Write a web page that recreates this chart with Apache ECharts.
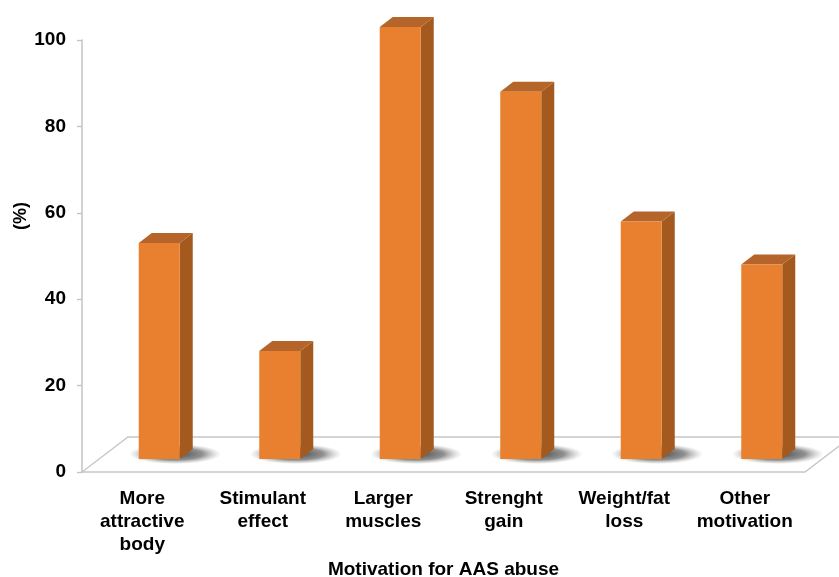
<!DOCTYPE html>
<html>
<head>
<meta charset="utf-8">
<script src="https://cdn.jsdelivr.net/npm/echarts@6/dist/echarts.min.js"></script>
<style>
  html, body { margin: 0; padding: 0; background: #ffffff; }
  #chart { width: 839px; height: 577px; }
</style>
</head>
<body>
<div id="chart"></div>
<script>
// Motivations reported for AAS abuse (% of respondents)
const categories = [
  'More\nattractive\nbody',
  'Stimulant\neffect',
  'Larger\nmuscles',
  'Strenght\ngain',
  'Weight/fat\nloss',
  'Other\nmotivation'
];
const percentValues = [50, 25, 100, 85, 55, 45];
const yTicks = [0, 20, 40, 60, 80, 100];

// Pseudo-3D geometry (pixels)
const FLOOR_DX = 46, FLOOR_DY = -35;   // depth vector of the floor
const BAR_OFF_X = 17, BAR_OFF_Y = -13; // bar front face position inside floor depth
const BAR_W = 41;                      // bar front face width
const BAR_DX = 13, BAR_DY = -10;       // bar depth

const FRONT = '#E8802F', SIDE = '#A45A1F', TOP = '#B5652A';
const FONT = '"Liberation Sans", Arial, Helvetica, sans-serif';

const chart = echarts.init(document.getElementById('chart'), null, { renderer: 'canvas' });

function renderFloor(params, api) {
  const cs = params.coordSys;
  const x0 = cs.x, x1 = cs.x + cs.width, y0 = cs.y + cs.height;
  return {
    type: 'polygon',
    shape: { points: [[x0, y0], [x0 + FLOOR_DX, y0 + FLOOR_DY], [x1 + FLOOR_DX, y0 + FLOOR_DY], [x1, y0]] },
    style: { fill: '#ffffff', stroke: '#c6c6c6', lineWidth: 1.3 },
    silent: true
  };
}

function renderBar(params, api) {
  const idx = api.value(0);
  const base = api.coord([idx, 0]);
  const top = api.coord([idx, api.value(1)]);
  const cx = base[0] + BAR_OFF_X;
  const L = cx - BAR_W / 2, R = cx + BAR_W / 2;
  const botY = base[1] + BAR_OFF_Y;
  const topY = top[1] + BAR_OFF_Y;
  return {
    type: 'group',
    children: [
      // soft shadow cast on the floor (circle squashed into an ellipse)
      {
        type: 'circle',
        x: cx + 16,
        y: botY - 5,
        scaleY: 0.22,
        shape: { cx: 0, cy: 0, r: 46 },
        style: {
          fill: {
            type: 'radial', x: 0.5, y: 0.5, r: 0.5,
            colorStops: [
              { offset: 0, color: 'rgba(40,40,40,0.85)' },
              { offset: 0.6, color: 'rgba(70,70,70,0.6)' },
              { offset: 1, color: 'rgba(140,140,140,0)' }
            ]
          }
        },
        z2: 0
      },
      {
        type: 'polygon',
        shape: { points: [[R, topY], [R + BAR_DX, topY + BAR_DY], [R + BAR_DX, botY + BAR_DY], [R, botY]] },
        style: { fill: SIDE },
        z2: 1
      },
      {
        type: 'polygon',
        shape: { points: [[L, topY], [L + BAR_DX, topY + BAR_DY], [R + BAR_DX, topY + BAR_DY], [R, topY]] },
        style: { fill: TOP },
        z2: 1
      },
      {
        type: 'rect',
        shape: { x: L, y: topY, width: BAR_W, height: botY - topY },
        style: { fill: FRONT },
        z2: 2
      }
    ]
  };
}

chart.setOption({
  animation: false,
  backgroundColor: '#ffffff',
  grid: { left: 82, right: 34, top: 40, bottom: 105, containLabel: false, outerBoundsMode: 'none' },
  xAxis: {
    type: 'category',
    data: categories,
    axisLine: { show: false },
    axisTick: { show: false },
    axisLabel: {
      interval: 0,
      margin: 15,
      color: '#000',
      fontFamily: FONT,
      fontWeight: 'bold',
      fontSize: 19,
      lineHeight: 23
    },
    name: 'Motivation for AAS abuse',
    nameLocation: 'middle',
    nameGap: 88,
    nameMoveOverlap: false,
    nameTextStyle: { color: '#000', fontFamily: FONT, fontWeight: 'bold', fontSize: 19 }
  },
  yAxis: {
    type: 'value',
    min: yTicks[0],
    max: yTicks[yTicks.length - 1],
    interval: yTicks[1] - yTicks[0],
    axisLine: { show: true, lineStyle: { color: '#c3c3c3', width: 1.5 } },
    axisTick: { show: true, length: 5, lineStyle: { color: '#c3c3c3', width: 1.3 } },
    splitLine: { show: false },
    axisLabel: {
      margin: 16,
      color: '#000',
      fontFamily: FONT,
      fontWeight: 'bold',
      fontSize: 19
    },
    name: '(%)',
    nameLocation: 'middle',
    nameRotate: 90,
    nameGap: 52,
    nameMoveOverlap: false,
    nameTextStyle: { color: '#000', fontFamily: FONT, fontWeight: 'bold', fontSize: 18, padding: [0, 0, 0, 80] }
  },
  series: [
    {
      type: 'custom',
      renderItem: renderFloor,
      data: [[0, 0]],
      clip: false,
      silent: true,
      z: 1
    },
    {
      type: 'custom',
      renderItem: renderBar,
      data: percentValues.map((v, i) => [i, v]),
      encode: { x: 0, y: 1 },
      clip: false,
      z: 2
    }
  ]
});
</script>
</body>
</html>
